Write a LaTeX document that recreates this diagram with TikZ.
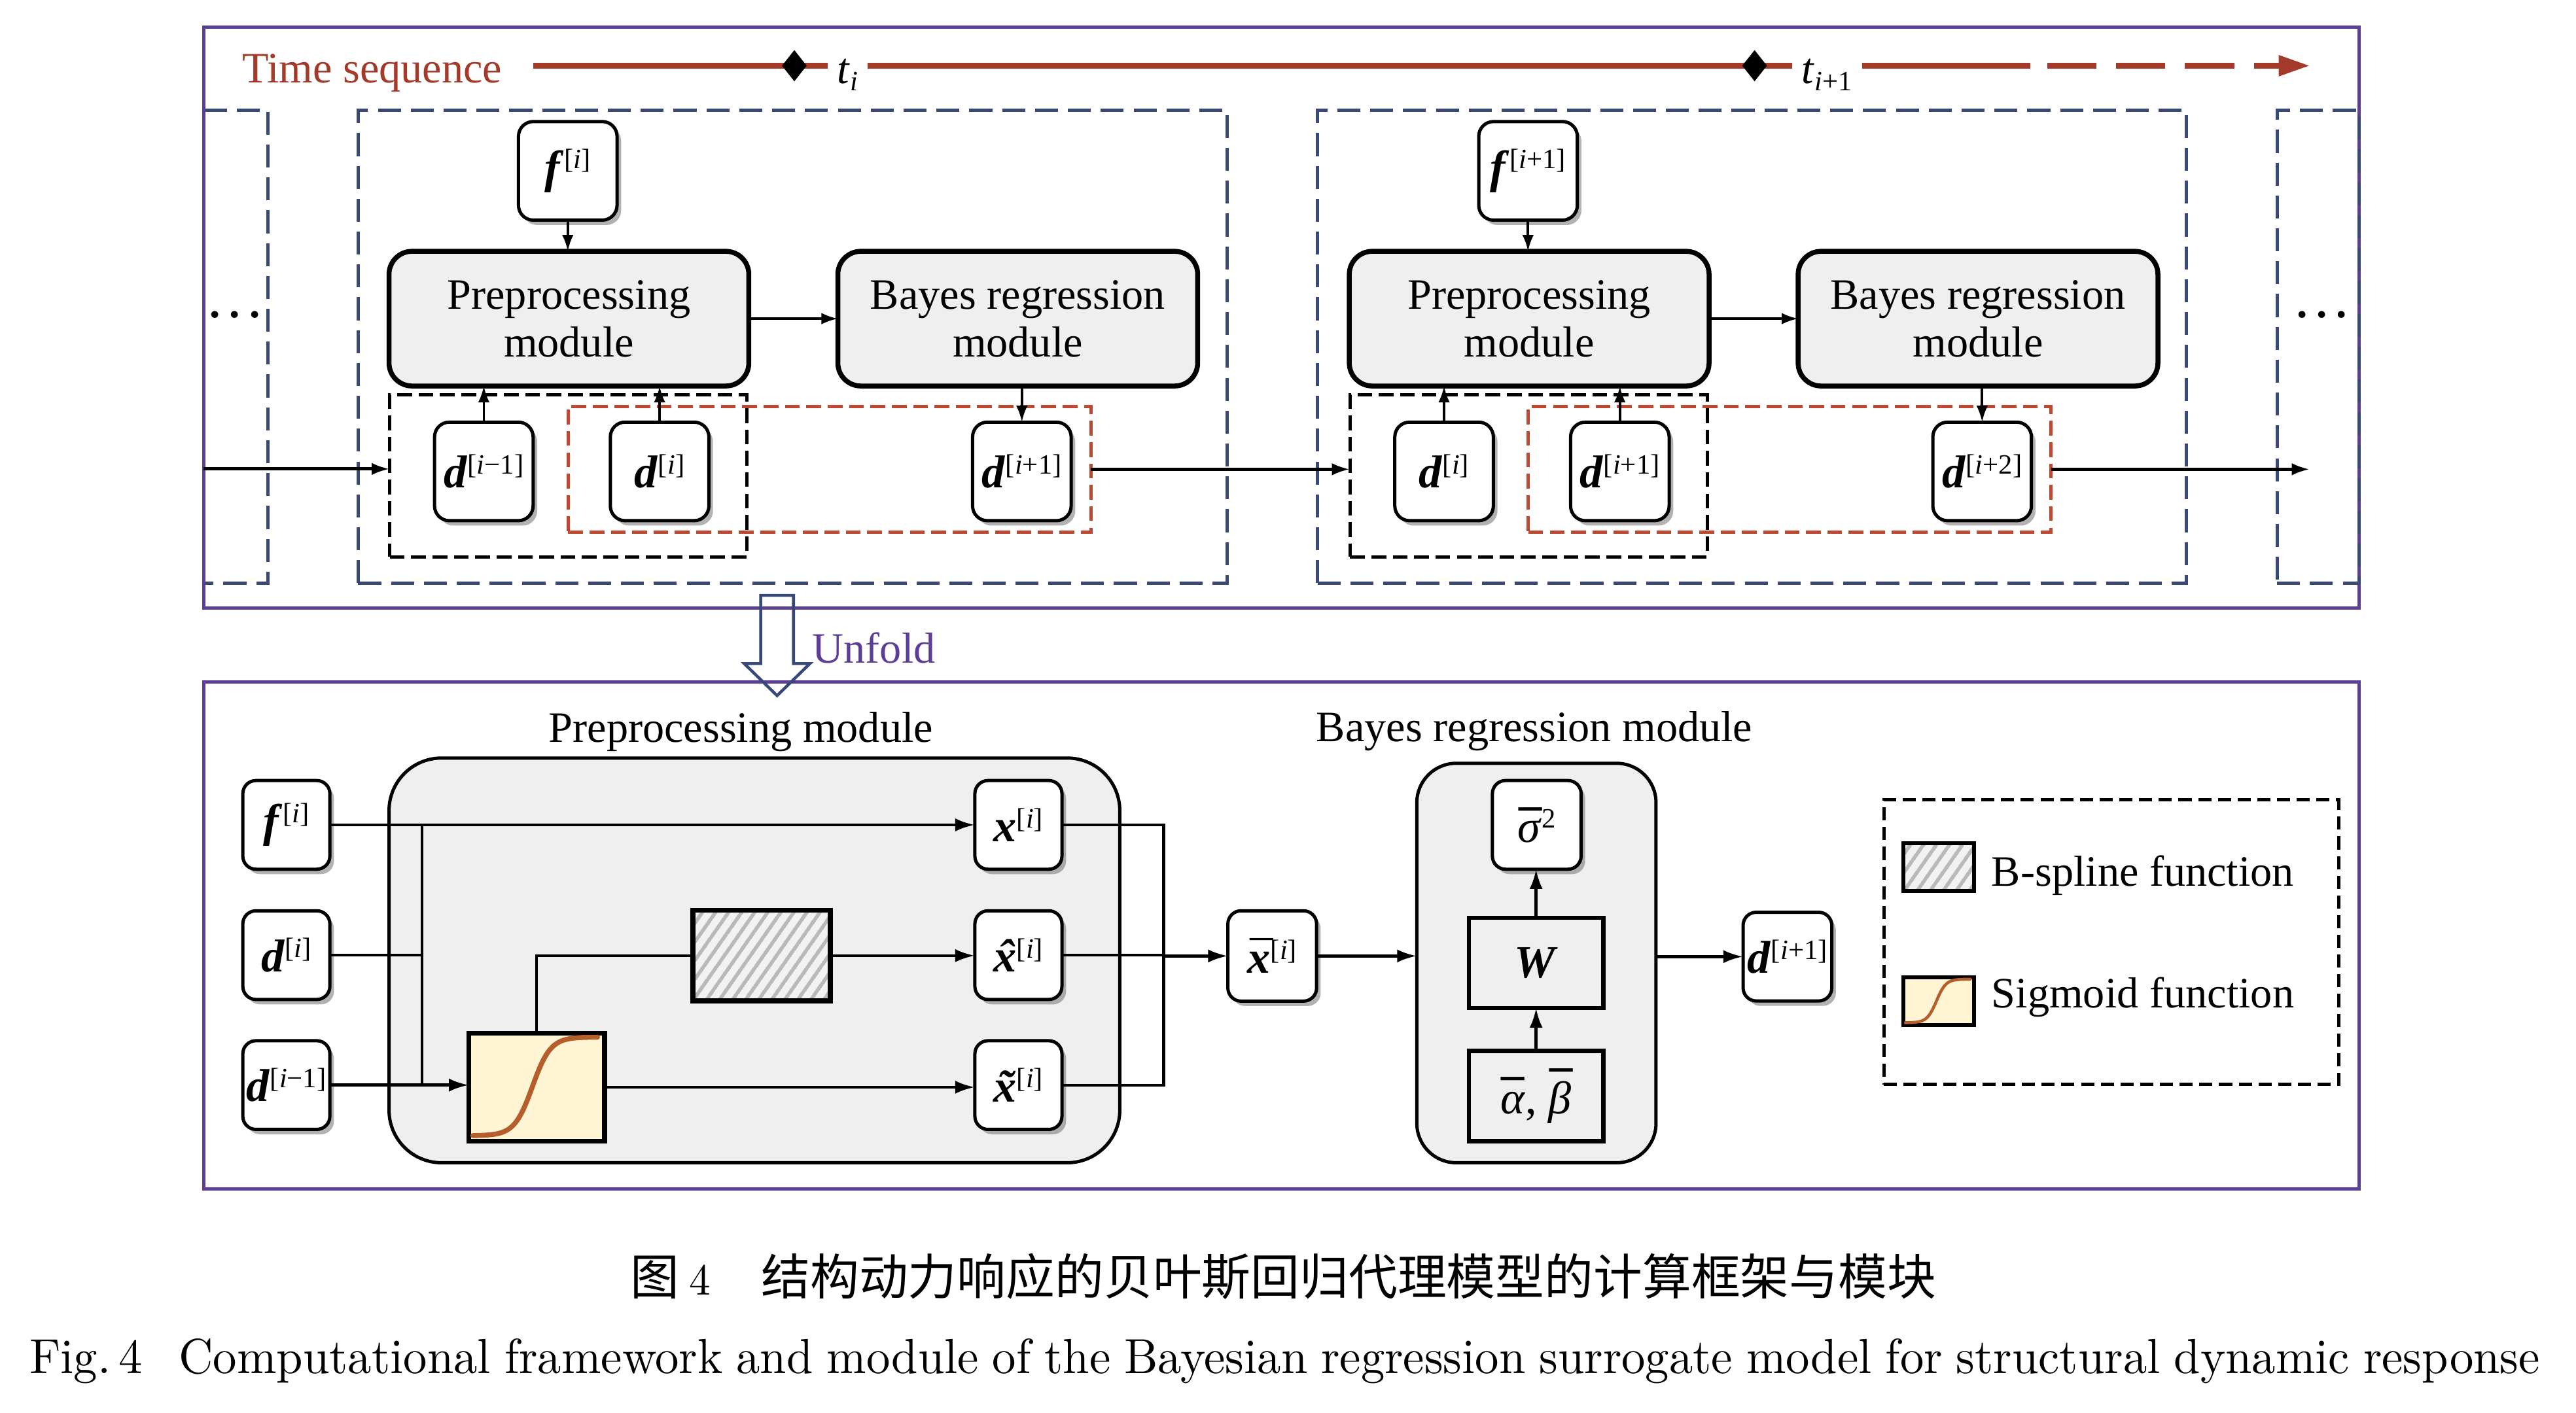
\documentclass[tikz,border=0pt]{standalone}
\usepackage{fontspec}
\setmainfont{Liberation Serif}
\newfontfamily\cjk{Noto Sans CJK SC}
\newfontfamily\lmcond{lmroman10-regular.otf}[FakeStretch=0.965]
\usetikzlibrary{arrows.meta,shadows,patterns.meta,shapes.geometric}

\definecolor{purp}{RGB}{92,62,150}
\definecolor{navy}{RGB}{58,72,120}
\definecolor{tred}{RGB}{163,58,42}
\definecolor{dred}{RGB}{190,72,50}
\definecolor{gfill}{RGB}{239,239,239}
\definecolor{sfill}{RGB}{255,245,212}
\definecolor{scur}{RGB}{181,94,44}
\definecolor{hatchc}{RGB}{185,185,185}

\newcommand{\fs}[1]{\fontsize{#1}{#1}\selectfont}
\newcommand{\bi}[1]{\textbf{\textit{#1}}}
\newcommand{\sups}[1]{\raisebox{8.5pt}{\fs{17}[#1]}}
\newcommand{\ii}{\textit{i}}
\newsavebox\accbase
\newcommand{\topacc}[4]{\sbox\accbase{#1}\makebox[\wd\accbase]{\hspace*{#3}\raisebox{#4}{#2}}\kern-\wd\accbase\usebox\accbase}
\newcommand{\sigcurve}[4]{%
  \begin{scope}[shift={(#1.south west)}]
    \draw[scur, line width=#4, line cap=round] plot[domain=0.03:0.95, samples=60, smooth] ({#2*\x},{-#3*(0.05+0.915/(1+exp(-15*(\x-0.47))))});
  \end{scope}}

\tikzset{
  txt/.style={font=\fontsize{26.4}{29}\selectfont},
  sbox/.style={draw, line width=2pt, fill=white, rounded corners=9pt, minimum width=60pt, minimum height=60pt,
    font=\fs{28}, drop shadow={shadow xshift=2.5pt, shadow yshift=-3pt, fill=black!60, opacity=.5}},
  bsbox/.style={sbox, minimum width=53pt, minimum height=54pt, rounded corners=8pt},
  modbox/.style={draw, line width=3pt, fill=gfill, rounded corners=14pt, minimum width=219pt, minimum height=82pt,
    align=center, font=\fontsize{26.4}{29}\selectfont},
  navyfr/.style={draw=navy, line width=2pt, dash pattern=on 14pt off 6pt},
  blkfr/.style={draw=black, line width=2pt, dash pattern=on 9pt off 4pt},
  redfr/.style={draw=dred, line width=2pt, dash pattern=on 9pt off 4pt},
  tline/.style={draw=tred, line width=3.5pt},
  sarr/.style={draw, line width=1.5pt, -{Latex[length=10pt,width=7pt]}},
  harr/.style={draw, line width=2pt, -{Latex[length=11pt,width=7.5pt]}},
  bline/.style={draw, line width=1.7pt},
  barr/.style={draw, line width=1.8pt, -{Latex[length=12pt,width=8pt]}},
  grp/.style={draw, line width=2pt, fill=gfill},
  hatchbox/.style={draw, line width=3pt, preaction={fill=gray!10},
    pattern={Lines[angle=55,distance=6.5pt,line width=2.4pt]}, pattern color=hatchc},
  sigbox/.style={draw, line width=3pt, fill=sfill},
  sqbox/.style={draw, line width=2.5pt, fill=gfill, minimum width=82pt, minimum height=55pt, font=\fs{28}},
}

\begin{document}
\begin{tikzpicture}[x=1pt, y=-1pt, every node/.style={inner sep=0pt, outer sep=0pt}]
\useasboundingbox (0,0) rectangle (1568,860);

% ---------- frames ----------
\node[navyfr, minimum width=529pt, minimum height=288pt] (fr1) at (482.5,211) {};
\node[navyfr, minimum width=529pt, minimum height=288pt] (fr2) at (1066.5,211) {};
\draw[navyfr] (124,67) -- (163,67) -- (163,355) -- (124,355);
\node[draw=purp, line width=2pt, minimum width=1312pt, minimum height=353.5pt] (topfr) at (780,193.25) {};
\node[navyfr, minimum width=50pt, minimum height=288pt] (fr3) at (1411,211) {};
\node[draw=purp, line width=2pt, minimum width=1312pt, minimum height=309pt] (botfr) at (780,569.5) {};

\node[font=\bfseries\fs{26}, anchor=base] (dl) at (143,193.5) {.\hspace{5.5pt}.\hspace{5.5pt}.};
\node[font=\bfseries\fs{26}, anchor=base] (dr) at (1413.3,193.5) {.\hspace{5.5pt}.\hspace{5.5pt}.};

% ---------- time sequence ----------
\node[txt, text=tred, anchor=base] (ts) at (226.5,50.4) {Time sequence};
\node[font=\fs{26.4}, anchor=base, inner xsep=6pt] (t1) at (516,50.8) {\textit{t}\raisebox{-4.5pt}{\fs{17}\textit{i}}};
\node[font=\fs{26.4}, anchor=base, inner xsep=6pt] (t2) at (1112,50.8) {\textit{t}\raisebox{-4.5pt}{\fs{17}\textit{i}+1}};
\coordinate (tl0) at (324.6,40);
\coordinate (tl1) at (1236,40);
\coordinate (tl2) at (1246,40);
\coordinate (tl3) at (1406,40);
\draw[tline] (tl0) -- (tl0 -| t1.west);
\draw[tline] (tl0 -| t1.east) -- (tl0 -| t2.west);
\draw[tline] (tl0 -| t2.east) -- (tl1);
\draw[tline, dash pattern=on 30pt off 12pt, -{Triangle[length=19pt,width=12pt]}] (tl2) -- (tl3);
\node[diamond, fill=black, minimum width=15pt, minimum height=19pt, aspect=0.79] (dm1) at (483.5,40) {};
\node[diamond, fill=black, minimum width=15pt, minimum height=19pt, aspect=0.79] (dm2) at (1068,40) {};

% ---------- time step i ----------
\node[blkfr, minimum width=217.5pt, minimum height=98.5pt] (blk1) at (346,289.75) {};
\node[redfr, minimum width=318.2pt, minimum height=76.6pt] (red1) at (504.9,285.7) {};
\node[sbox] (f1) at (345.6,104) {\bi{f}\sups{\ii}};
\node[modbox] (pre1) at (346.3,194) {Preprocessing\\module};
\node[modbox] (bay1) at (619.5,194) {Bayes regression\\module};
\node[sbox] (da1) at (294.5,287) {\bi{d}\sups{\ii−1}};
\node[sbox] (db1) at (401.5,287) {\bi{d}\sups{\ii}};
\node[sbox] (dc1) at (622,287) {\bi{d}\sups{\ii+1}};

% ---------- time step i+1 ----------
\node[blkfr, minimum width=217.5pt, minimum height=98.5pt] (blk2) at (930.5,289.75) {};
\node[redfr, minimum width=318.2pt, minimum height=76.6pt] (red2) at (1089.4,285.7) {};
\node[sbox] (f2) at (930.1,104) {\bi{f}\sups{\ii+1}};
\node[modbox] (pre2) at (930.8,194) {Preprocessing\\module};
\node[modbox] (bay2) at (1204,194) {Bayes regression\\module};
\node[sbox] (da2) at (879,287) {\bi{d}\sups{\ii}};
\node[sbox] (db2) at (986,287) {\bi{d}\sups{\ii+1}};
\node[sbox] (dc2) at (1206.5,287) {\bi{d}\sups{\ii+2}};

% top connectors
\draw[sarr] (f1.south) -- (f1.south |- pre1.north);
\draw[sarr] (pre1.east) -- (bay1.west);
\draw[sarr] (da1.north) -- (da1.north |- pre1.south);
\draw[sarr] (db1.north) -- (db1.north |- pre1.south);
\draw[sarr] (dc1.north |- bay1.south) -- (dc1.north);
\draw[sarr] (f2.south) -- (f2.south |- pre2.north);
\draw[sarr] (pre2.east) -- (bay2.west);
\draw[sarr] (da2.north) -- (da2.north |- pre2.south);
\draw[sarr] (db2.north) -- (db2.north |- pre2.south);
\draw[sarr] (dc2.north |- bay2.south) -- (dc2.north);
\coordinate (in0) at (124,285.5);
\coordinate (out0) at (1406,285.7);
\draw[harr] (in0) -- (in0 -| blk1.west);
\draw[harr] (red1.east) -- (red1.east -| blk2.west);
\draw[harr] (red2.east) -- (out0);

% ---------- unfold ----------
\draw[navy, line width=1.8pt, line join=miter] (463,362.5) -- (483,362.5) -- (483,404) -- (493,404) -- (473,423.5) -- (453,404) -- (463,404) -- cycle;
\node[txt, text=purp, anchor=base west] (unf) at (494.6,403.7) {Unfold};

% ---------- bottom: preprocessing module ----------
\node[txt, anchor=base] (ptitle) at (451,451.9) {Preprocessing module};
\node[grp, rounded corners=32pt, minimum width=444.8pt, minimum height=246.4pt] (pgrp) at (459.2,584.7) {};
\node[bsbox] (fi) at (174.3,502.2) {\bi{f}\sups{\ii}};
\node[bsbox] (di) at (174.3,581.5) {\bi{d}\sups{\ii}};
\node[bsbox] (dim) at (174.3,660.6) {\bi{d}\sups{\ii−1}};
\node[bsbox] (xo) at (619.9,502.2) {\bi{x}\sups{\ii}};
\node[bsbox] (xh) at (619.9,581.5) {\topacc{\bi{x}}{\bi{ˆ}}{2pt}{0pt}\sups{\ii}};
\node[bsbox] (xt) at (619.9,660.6) {\topacc{\bi{x}}{\bi{˜}}{2pt}{0pt}\sups{\ii}};
\node[hatchbox, minimum width=83.8pt, minimum height=55.3pt] (bs) at (463.6,581.8) {};
\node[sigbox, minimum width=82.6pt, minimum height=65.6pt] (sig) at (326.6,661.9) {};
\sigcurve{sig}{82.6}{65.6}{3pt}

\coordinate (jt) at (257,581.5);
\coordinate (mj) at (708.3,582);
\draw[barr] (fi.east) -- (xo.west);
\draw[bline] (fi.east -| jt) -- (dim.east -| jt);
\draw[bline] (di.east) -- (jt);
\draw[barr] (dim.east) -- (dim.east -| sig.west);
\draw[bline] (sig.north) |- (bs.west);
\draw[barr] (bs.east) -- (bs.east -| xh.west);
\draw[barr] (sig.east) -- (sig.east -| xt.west);
\draw[bline] (xo.east) -- (xo.east -| mj) -- (xt.east -| mj) -- (xt.east);
\draw[bline] (xh.east) -- (xh.east -| mj);

% ---------- bottom: Bayes regression module ----------
\node[bsbox, minimum width=54pt, minimum height=55pt] (xb) at (774.4,582) {\topacc{\bi{x}}{\bi{¯}}{1.5pt}{0pt}\sups{\ii}};
\node[txt, anchor=base] (btitle) at (934,451.3) {Bayes regression module};
\node[grp, rounded corners=24pt, minimum width=145.6pt, minimum height=243.2pt] (bgrp) at (935.2,586.3) {};
\node[bsbox, minimum width=54pt] (sg) at (935.4,502.2) {\topacc{\textit{σ}}{\textbf{¯}}{1pt}{0pt}\raisebox{8.5pt}{\fs{17}2}};
\node[sqbox] (W) at (935,586.2) {\bi{W}};
\node[sqbox] (ab) at (935,667.3) {\topacc{\textit{α}}{\textbf{¯}}{0pt}{1pt}, \topacc{\textit{β}}{\textbf{¯}}{2pt}{6pt}};
\node[bsbox, minimum width=54pt] (dout) at (1088,582.4) {\bi{d}\sups{\ii+1}};

\draw[barr] (mj) -- (xb.west);
\draw[barr] (xb.east) -- (xb.east -| bgrp.west);
\draw[barr] (W.north) -- (W.north |- sg.south);
\draw[barr] (ab.north) -- (W.south);
\draw[barr] (bgrp.east |- dout.west) -- (dout.west);

% ---------- legend ----------
\node[draw, line width=2pt, dash pattern=on 8pt off 4pt, minimum width=277pt, minimum height=173.3pt] (leg) at (1285.2,573.5) {};
\node[hatchbox, line width=2.5pt, minimum width=43pt, minimum height=29pt] (lh) at (1180,527.8) {};
\node[sigbox, line width=2.5pt, minimum width=43pt, minimum height=29pt] (ls) at (1180,609.6) {};
\sigcurve{ls}{43}{29}{1.8pt}
\node[txt, anchor=base west] (lht) at (1212.3,539.3) {B-spline function};
\node[txt, anchor=base west] (lst) at (1212.3,613.5) {Sigmoid function};

% ---------- captions ----------
\node[anchor=base, font=\fs{29.8}] (cap1) at (781.2,788.5) {{\cjk 图}\hspace{6pt}{\lmcond\fs{27}4}\hspace{30.7pt}{\cjk 结构动力响应的贝叶斯回归代理模型的计算框架与模块}};
\node[anchor=base, font=\lmcond\fs{30}] (cap2) at (782,836.3) {\makebox[1528pt][s]{Fig.\hspace{5pt}4\hspace{22pt}Computational framework and module of the Bayesian regression surrogate model for structural dynamic response}};
\end{tikzpicture}
\end{document}
